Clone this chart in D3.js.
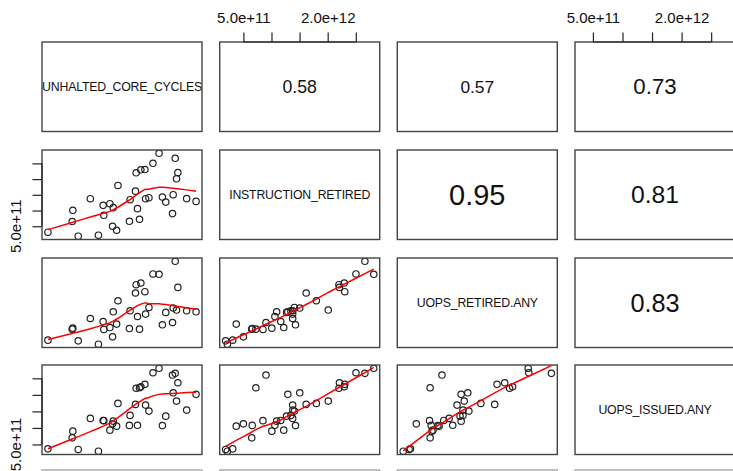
<!DOCTYPE html>
<html>
<head>
<meta charset="utf-8">
<script src="https://cdn.jsdelivr.net/npm/d3@7"></script>
<style>
  body { margin: 0; background: #fff; }
  svg { display: block; font-family: "Liberation Sans", Arial, sans-serif; }
</style>
</head>
<body>
<div id="chart"></div>
<script>
// Variables (one value per observation)
const varNames = ["UNHALTED_CORE_CYCLES", "INSTRUCTION_RETIRED", "UOPS_RETIRED.ANY", "UOPS_ISSUED.ANY"];

const unhaltedCoreCycles = [8.0e11, 12.5e11, 11.7e11, 11.6e11, 14.3e11, 15.5e11, 16.2e11, 16.3e11, 17.2e11, 17.7e11,
  17.6e11, 18.2e11, 18.4e11, 20.2e11, 20.1e11, 21.0e11, 21.3e11, 21.6e11, 21.1e11, 21.8e11,
  22.4e11, 22.5e11, 23.0e11, 23.6e11, 24.5e11, 25.0e11, 25.5e11, 26.6e11, 26.5e11, 26.9e11,
  27.3e11, 27.1e11, 28.6e11, 30.0e11];

const instructionRetired = [3.10e11, 1.84e11, 10.06e11, 6.49e11, 13.77e11, 2.15e11, 11.65e11, 8.48e11, 12.18e11, 10.92e11,
  5.00e11, 3.73e11, 17.98e11, 13.45e11, 6.58e11, 16.17e11, 10.60e11, 7.22e11, 22.0e11, 22.95e11,
  23.04e11, 13.77e11, 14.08e11, 25.03e11, 28.2e11, 14.27e11, 12.69e11, 15.03e11, 9.02e11, 26.62e11,
  22.09e11, 20.10e11, 13.8e11, 12.91e11];

const uopsRetiredAny = [3.7e11, 3.49e11, 7.3e11, 7.0e11, 10.18e11, 2.5e11, 9.28e11, 6.9e11, 7.48e11, 12.19e11,
  4.69e11, 8.5e11, 15.49e11, 12.49e11, 7.18e11, 17.8e11, 10.78e11, 7.0e11, 20.29e11, 20.8e11,
  18.19e11, 11.5e11, 13.48e11, 23.5e11, 23.4e11, 8.29e11, 12.0e11, 13.3e11, 8.98e11, 27.28e11,
  19.48e11, 12.7e11, 12.49e11, 12.19e11];

const uopsIssuedAny = [3.67e11, 3.49e11, 9.03e11, 7.0e11, 12.88e11, 2.97e11, 12.27e11, 12.2e11, 9.33e11, 12.06e11,
  11.24e11, 10.54e11, 17.42e11, 13.79e11, 10.76e11, 17.12e11, 10.8e11, 22.15e11, 22.0e11, 22.45e11,
  23.18e11, 16.91e11, 15.09e11, 26.69e11, 28.03e11, 10.7e11, 13.57e11, 20.63e11, 26.0e11, 26.51e11,
  23.66e11, 18.12e11, 15.39e11, 20.15e11];

// correlations shown in the upper panels: (1,2) (1,3) (1,4) (2,3) (2,4) (3,4)
const corrValues = [0.58, 0.57, 0.73, 0.95, 0.81, 0.83];

const axisTicks = [5e11, 1e12, 1.5e12, 2e12, 2.5e12];

const vars = [unhaltedCoreCycles, instructionRetired, uopsRetiredAny, uopsIssuedAny];
const n = vars.length;

// layout
const width = 733, height = 471;
const colLeft = [42, 219.7, 397.3, 575, 752.7];
const rowTop = [42, 150, 258, 365, 470];
const pw = 160, ph = 89.5;

const svg = d3.select("#chart").append("svg")
    .attr("width", width)
    .attr("height", height);

// R style 4% padded domain
function paddedDomain(v) {
  const [lo, hi] = d3.extent(v);
  const r = hi - lo;
  return [lo - 0.04 * r, hi + 0.04 * r];
}
const xScales = vars.map((v, j) => d3.scaleLinear().domain(paddedDomain(v)).range([colLeft[j], colLeft[j] + pw]));
const yScales = vars.map((v, i) => d3.scaleLinear().domain(paddedDomain(v)).range([rowTop[i] + ph, rowTop[i]]));

// R's lowess (f = 2/3, iter = 3)
function lowess(xs, ys, f = 2 / 3, iter = 3) {
  const idx = d3.range(xs.length).sort((a, b) => xs[a] - xs[b]);
  const x = idx.map(i => xs[i]), y = idx.map(i => ys[i]);
  const m = x.length;
  const ns = Math.max(2, Math.min(m, Math.floor(f * m + 1e-7)));
  const range = x[m - 1] - x[0];
  let rw = new Array(m).fill(1);
  const fit = new Array(m);
  for (let it = 0; it <= iter; it++) {
    let nleft = 0, nright = ns - 1;
    for (let i = 0; i < m; i++) {
      while (nright < m - 1 && x[i] - x[nleft] > x[nright + 1] - x[i]) { nleft++; nright++; }
      const h = Math.max(x[i] - x[nleft], x[nright] - x[i]);
      const w = new Array(m).fill(0);
      let sw = 0;
      for (let j = 0; j < m; j++) {
        const r = Math.abs(x[j] - x[i]);
        if (r <= 0.999 * h) {
          let wj = r <= 0.001 * h ? 1 : Math.pow(1 - Math.pow(r / h, 3), 3);
          wj *= rw[j];
          w[j] = wj; sw += wj;
        }
      }
      if (sw <= 0) { fit[i] = y[i]; continue; }
      let a = 0;
      for (let j = 0; j < m; j++) { w[j] /= sw; a += w[j] * x[j]; }
      let b = x[i] - a, c = 0;
      for (let j = 0; j < m; j++) c += w[j] * (x[j] - a) * (x[j] - a);
      if (Math.sqrt(c) > 0.001 * range) {
        b /= c;
        for (let j = 0; j < m; j++) w[j] *= (b * (x[j] - a) + 1);
      }
      let s = 0;
      for (let j = 0; j < m; j++) s += w[j] * y[j];
      fit[i] = s;
    }
    if (it === iter) break;
    const res = y.map((v, i) => v - fit[i]);
    const cmad = 6 * d3.median(res.map(Math.abs));
    if (cmad < 1e-7 * d3.mean(y.map(Math.abs))) break;
    rw = res.map(r => {
      const u = Math.abs(r) / cmad;
      return u <= 0.001 ? 1 : (u > 0.999 ? 0 : Math.pow(1 - u * u, 2));
    });
  }
  return x.map((v, i) => [v, fit[i]]);
}

const defs = svg.append("defs");
let corrIndex = 0;

for (let i = 0; i < n; i++) {
  for (let j = 0; j < n; j++) {
    const x0 = colLeft[j], y0 = rowTop[i];
    const clipId = "clip-" + i + "-" + j;
    defs.append("clipPath").attr("id", clipId)
      .append("rect").attr("x", x0).attr("y", y0).attr("width", pw).attr("height", ph);

    const g = svg.append("g").attr("clip-path", "url(#" + clipId + ")");

    if (i === j) {
      g.append("text")
        .attr("x", x0 + pw / 2)
        .attr("y", y0 + ph / 2)
        .attr("text-anchor", "middle")
        .attr("dominant-baseline", "central")
        .style("font-size", "12.3px")
        .style("letter-spacing", "-0.2px")
        .attr("fill", "#111")
        .text(varNames[i]);
    } else if (i < j) {
      const r = corrValues[corrIndex++];
      g.append("text")
        .attr("x", x0 + pw / 2)
        .attr("y", y0 + ph / 2)
        .attr("text-anchor", "middle")
        .attr("dominant-baseline", "central")
        .style("font-size", (30.5 * r) + "px")
        .attr("fill", "#111")
        .text(r.toFixed(2));
    } else {
      const xs = vars[j], ys = vars[i];
      const x = xScales[j], y = yScales[i];
      g.selectAll("circle")
        .data(xs.map((v, k) => [v, ys[k]]))
        .enter().append("circle")
          .attr("cx", d => x(d[0]))
          .attr("cy", d => y(d[1]))
          .attr("r", 3.2)
          .attr("fill", "none")
          .attr("stroke", "#222")
          .attr("stroke-width", 1.2);

      const line = d3.line().x(d => x(d[0])).y(d => y(d[1]));
      g.append("path")
        .datum(lowess(xs, ys))
        .attr("d", line)
        .attr("fill", "none")
        .attr("stroke", "red")
        .attr("stroke-width", 1.5);
    }

    svg.append("rect")
      .attr("x", x0).attr("y", y0)
      .attr("width", pw).attr("height", ph)
      .attr("fill", "none")
      .attr("stroke", "#444")
      .attr("stroke-width", 1.4);
  }
}

// fifth row of the matrix (cut off at the bottom)
for (let j = 0; j < n; j++) {
  svg.append("rect")
    .attr("x", colLeft[j]).attr("y", rowTop[4])
    .attr("width", pw).attr("height", ph)
    .attr("fill", "none")
    .attr("stroke", "#999")
    .attr("stroke-width", 1.2);
}

const fmt = v => v.toExponential(1);
const tickLen = 9.5;

// hide labels that would overlap the previously kept one (like R's axis)
function thinLabels(labels, pos, size) {
  let lastEnd = -Infinity;
  labels.each(function(d) {
    const len = this.getComputedTextLength();
    const c = pos(d);
    const start = c - len / 2, end = c + len / 2;
    if (start >= lastEnd + size * 1.2) {
      lastEnd = end;
    } else {
      d3.select(this).remove();
    }
  });
}

// top axes (columns 2 and 4)
[1, 3].forEach(j => {
  const x = xScales[j];
  const ax = svg.append("g")
    .attr("transform", "translate(0," + rowTop[0] + ")")
    .call(d3.axisTop(x).tickValues(axisTicks).tickSize(tickLen).tickPadding(10).tickFormat(fmt));
  ax.select(".domain").remove();
  ax.selectAll("line").attr("stroke", "#222").attr("stroke-width", 1.2);
  ax.selectAll("text").style("font-size", "15px").attr("fill", "#111");
  ax.append("line")
    .attr("x1", x(axisTicks[0])).attr("x2", x(axisTicks[axisTicks.length - 1]))
    .attr("stroke", "#222").attr("stroke-width", 1.2);
  thinLabels(ax.selectAll("text"), v => x(v), 15);
});

// left axes (rows 2 and 4)
[1, 3].forEach(i => {
  const y = yScales[i];
  const ax = svg.append("g")
    .attr("transform", "translate(" + colLeft[0] + ",0)")
    .call(d3.axisLeft(y).tickValues(axisTicks).tickSize(tickLen).tickFormat(""));
  ax.select(".domain").remove();
  ax.selectAll("line").attr("stroke", "#222").attr("stroke-width", 1.2);
  ax.append("line")
    .attr("y1", y(axisTicks[0])).attr("y2", y(axisTicks[axisTicks.length - 1]))
    .attr("stroke", "#222").attr("stroke-width", 1.2);
  const labels = svg.append("g").selectAll("text")
    .data(axisTicks)
    .enter().append("text")
      .attr("transform", d => "translate(15," + y(d) + ") rotate(-90)")
      .attr("text-anchor", "middle")
      .attr("dominant-baseline", "central")
      .style("font-size", "15px")
      .attr("fill", "#111")
      .text(fmt);
  thinLabels(labels, v => -y(v), 15);
});
</script>
</body>
</html>
